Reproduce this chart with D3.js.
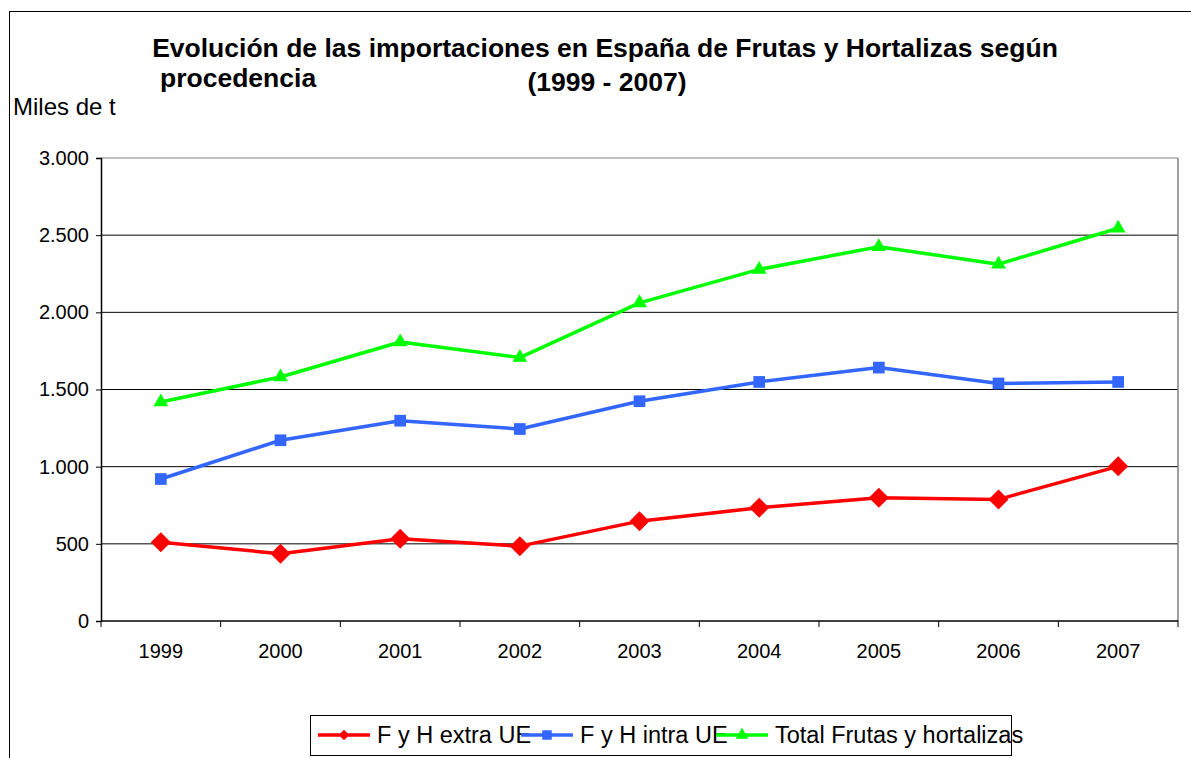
<!DOCTYPE html>
<html>
<head>
<meta charset="utf-8">
<script src="https://cdn.jsdelivr.net/npm/d3@7"></script>
<style>
  body { margin: 0; background: #fff; }
  svg text { font-family: "Liberation Sans", Arial, sans-serif; }
</style>
</head>
<body>
<div id="chart"></div>
<script>
// datos (miles de t)
var years = ["1999", "2000", "2001", "2002", "2003", "2004", "2005", "2006", "2007"]
var extraUE = [511, 436, 533, 485, 647, 734, 799, 788, 1002]
var intraUE = [920, 1171, 1298, 1244, 1424, 1549, 1642, 1539, 1549]
var totalFH = [1419, 1581, 1808, 1707, 2061, 2278, 2425, 2312, 2545]
var seriesNames = ["F y H extra UE", "F y H intra UE", "Total Frutas y hortalizas"]
var yTicks = [0, 500, 1000, 1500, 2000, 2500, 3000]

const svgWidth = 1191
const svgHeight = 758
var plotLeft = 101, plotRight = 1178, plotTop = 158, plotBottom = 621

var colors = ["#ff0000", "#3366ff", "#00ff00"]
// diamante = cuadrado girado 45 grados
var shapes = [d3.symbolSquare, d3.symbolSquare, d3.symbolTriangle]
var rotations = [45, 0, 0]
var shapeSizes = [200, 137, 95]
var legendSizes = [55, 90, 70]

var svg = d3.select("#chart").append("svg")
    .attr("width", svgWidth)
    .attr("height", svgHeight)

// marco exterior
svg.append("rect")
    .attr("x", 9.5).attr("y", 11.5)
    .attr("width", 1200).attr("height", 800)
    .style("fill", "none").style("stroke", "#000").style("stroke-width", "1px")

var x = d3.scaleBand().domain(years).range([plotLeft, plotRight])
var y = d3.scaleLinear().domain([0, 3000]).range([plotBottom, plotTop])

// lineas de division
svg.append("g")
    .selectAll("line")
    .data(yTicks.slice(1))
    .enter()
    .append("line")
    .attr("x1", plotLeft).attr("x2", plotRight)
    .attr("y1", d => y(d)).attr("y2", d => y(d))
    .style("stroke", d => d === 3000 ? "#808080" : "#000")
    .style("stroke-width", "1px")

// borde derecho del area
svg.append("line")
    .attr("x1", plotRight).attr("x2", plotRight)
    .attr("y1", plotTop).attr("y2", plotBottom)
    .style("stroke", "#808080").style("stroke-width", "1.5px")

var fmt = d => d3.format(",")(d).replace(/,/g, ".")

var yAxis = svg.append("g")
    .attr("transform", "translate(" + plotLeft + ",0)")
    .call(d3.axisLeft(y).tickValues(yTicks).tickFormat(fmt).tickSize(5).tickPadding(7))
yAxis.select(".domain").style("stroke", "#000").style("stroke-width", "1.5px")
yAxis.selectAll("text").style("font-size", "20px").style("fill", "#000")

var xAxis = svg.append("g")
    .attr("transform", "translate(0," + plotBottom + ")")
    .call(d3.axisBottom(x).tickSize(0).tickPadding(23))
xAxis.select(".domain").remove()
xAxis.selectAll("text").style("font-size", "20px").style("fill", "#000")

// eje x y marcas entre categorias
svg.append("line")
    .attr("x1", plotLeft).attr("x2", plotRight)
    .attr("y1", plotBottom).attr("y2", plotBottom)
    .style("stroke", "#000").style("stroke-width", "1.5px")
svg.append("g")
    .selectAll("line")
    .data(years.concat(["end"]))
    .enter()
    .append("line")
    .attr("x1", (d, i) => plotLeft + i * x.bandwidth())
    .attr("x2", (d, i) => plotLeft + i * x.bandwidth())
    .attr("y1", plotBottom).attr("y2", plotBottom + 6)
    .style("stroke", "#000").style("stroke-width", "1px")

var allSeries = [extraUE, intraUE, totalFH]
var line = d3.line()
    .x((d, i) => x(years[i]) + x.bandwidth() / 2)
    .y(d => y(d))

allSeries.forEach(function (vals, s) {
    svg.append("path")
        .datum(vals)
        .attr("d", line)
        .style("fill", "none")
        .style("stroke", colors[s])
        .style("stroke-width", "3.5px")
        .style("stroke-linejoin", "round")

    svg.append("g")
        .selectAll("path")
        .data(vals)
        .enter()
        .append("path")
        .attr("d", d3.symbol().type(shapes[s]).size(shapeSizes[s]))
        .attr("transform", (d, i) => "translate(" + (x(years[i]) + x.bandwidth() / 2) + "," + y(d) + ") rotate(" + rotations[s] + ")")
        .style("fill", colors[s])
})

// titulo
svg.append("text")
    .attr("x", 605).attr("y", 57)
    .attr("text-anchor", "middle")
    .style("font-size", "26.5px").style("font-weight", "bold")
    .text("Evolución de las importaciones en España de Frutas y Hortalizas según")
svg.append("text")
    .attr("x", 160).attr("y", 87)
    .style("font-size", "26.5px").style("font-weight", "bold")
    .text("procedencia")
svg.append("text")
    .attr("x", 607).attr("y", 91)
    .attr("text-anchor", "middle")
    .style("font-size", "26.5px").style("font-weight", "bold")
    .text("(1999 - 2007)")

svg.append("text")
    .attr("x", 13).attr("y", 115)
    .style("font-size", "24px")
    .text("Miles de t")

// leyenda
var legend = svg.append("g")
legend.append("rect")
    .attr("x", 310.5).attr("y", 715.5)
    .attr("width", 701).attr("height", 40)
    .style("fill", "#fff").style("stroke", "#000").style("stroke-width", "1px")

var legX = [318, 521, 716]
seriesNames.forEach(function (name, s) {
    var gx = legX[s]
    legend.append("line")
        .attr("x1", gx).attr("x2", gx + 52)
        .attr("y1", 735).attr("y2", 735)
        .style("stroke", colors[s]).style("stroke-width", "3.5px")
    legend.append("path")
        .attr("d", d3.symbol().type(shapes[s]).size(legendSizes[s]))
        .attr("transform", "translate(" + (gx + 26) + ",735) rotate(" + rotations[s] + ")")
        .style("fill", colors[s])
    legend.append("text")
        .attr("x", gx + 59).attr("y", 743)
        .style("font-size", "23.5px")
        .text(name)
})
</script>
</body>
</html>
